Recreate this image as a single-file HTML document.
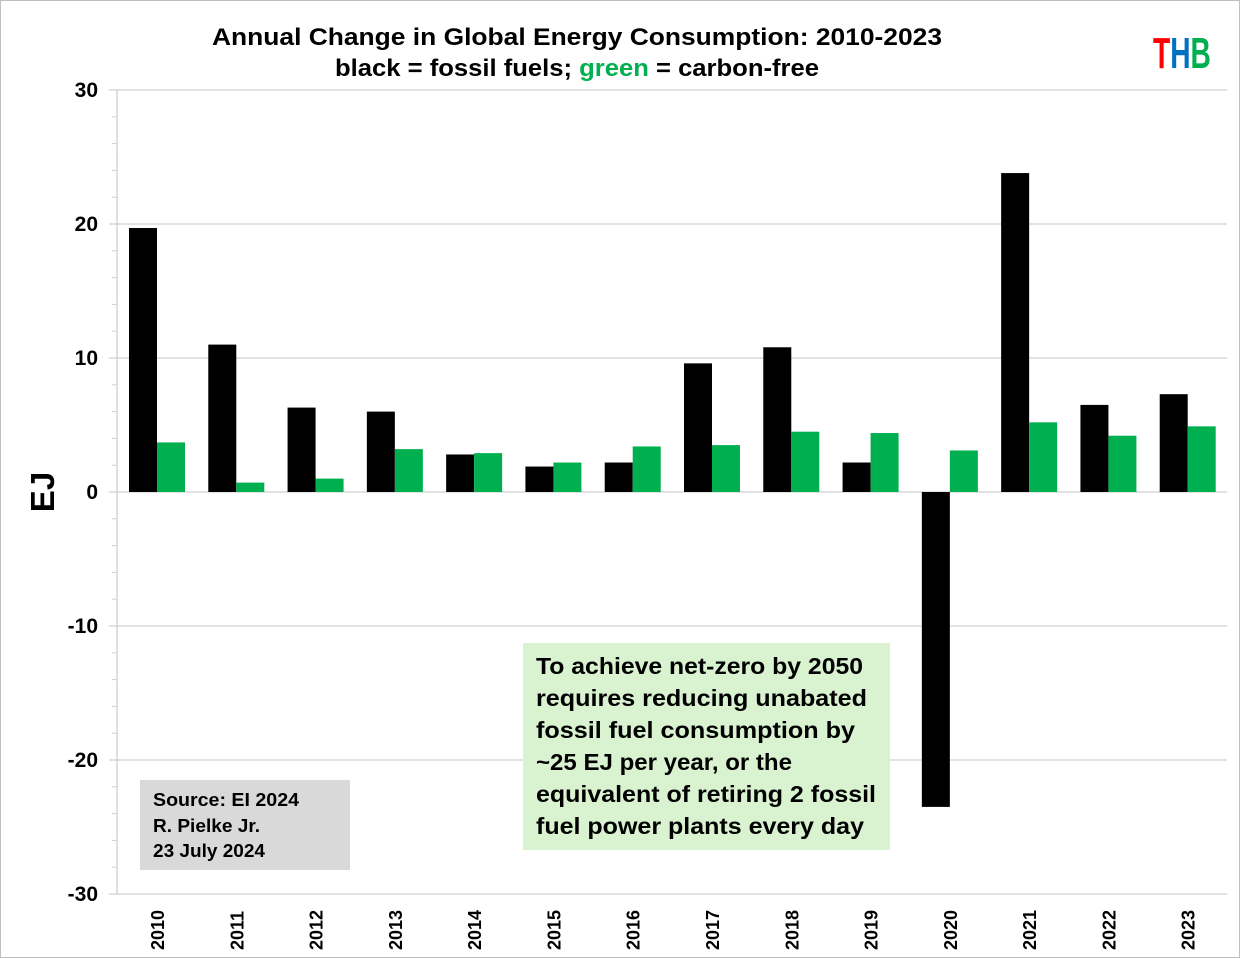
<!DOCTYPE html>
<html><head><meta charset="utf-8"><style>
html,body{margin:0;padding:0;background:#fff;}
body{width:1240px;height:958px;position:relative;overflow:hidden;font-family:"Liberation Sans",sans-serif;}
</style></head><body>
<svg id="chart" width="1240" height="958" xmlns="http://www.w3.org/2000/svg" style="position:absolute;left:0;top:0">
<rect x="0.5" y="0.5" width="1239" height="957" fill="#fff" stroke="#bfbfbf"/>
<text x="212" y="45" textLength="730" lengthAdjust="spacingAndGlyphs" font-size="24" font-weight="bold" fill="#000">Annual Change in Global Energy Consumption: 2010-2023</text>
<text x="335" y="76" textLength="484" lengthAdjust="spacingAndGlyphs" font-size="24" font-weight="bold" fill="#000">black = fossil fuels; <tspan fill="#00b050">green</tspan> = carbon-free</text>
<text transform="translate(1153,68) scale(0.64,1)" font-size="44" font-weight="bold"><tspan fill="#ff0000">T</tspan><tspan fill="#0070c0">H</tspan><tspan fill="#00b050">B</tspan></text>
<text transform="translate(54,492) rotate(-90)" text-anchor="middle" font-size="33" font-weight="bold">EJ</text>
<g id="grid"></g><g id="bars"></g><g id="labels"></g>
<rect x="140" y="780" width="210" height="90" fill="#d9d9d9"/>
<text font-size="18.5" font-weight="bold"><tspan x="153" y="806" textLength="146" lengthAdjust="spacingAndGlyphs">Source: EI 2024</tspan><tspan x="153" y="832" textLength="107" lengthAdjust="spacingAndGlyphs">R. Pielke Jr.</tspan><tspan x="153" y="857" textLength="112" lengthAdjust="spacingAndGlyphs">23 July 2024</tspan></text>
<rect x="523" y="643" width="367" height="207" fill="#d9f2d0"/>
<text font-size="23" font-weight="bold"><tspan x="536" y="674" textLength="327" lengthAdjust="spacingAndGlyphs">To achieve net-zero by 2050</tspan><tspan x="536" y="706" textLength="331" lengthAdjust="spacingAndGlyphs">requires reducing unabated</tspan><tspan x="536" y="738" textLength="319" lengthAdjust="spacingAndGlyphs">fossil fuel consumption by</tspan><tspan x="536" y="770" textLength="256" lengthAdjust="spacingAndGlyphs">~25 EJ per year, or the</tspan><tspan x="536" y="802" textLength="340" lengthAdjust="spacingAndGlyphs">equivalent of retiring 2 fossil</tspan><tspan x="536" y="834" textLength="328" lengthAdjust="spacingAndGlyphs">fuel power plants every day</tspan></text>
</svg>
<script>
const years=["2010","2011","2012","2013","2014","2015","2016","2017","2018","2019","2020","2021","2022","2023"];
const fossil=[19.7,11.0,6.3,6.0,2.8,1.9,2.2,9.6,10.8,2.2,-23.5,23.8,6.5,7.3];
const carbonFree=[3.7,0.7,1.0,3.2,2.9,2.2,3.4,3.5,4.5,4.4,3.1,5.2,4.2,4.9];
const yTicks=[30,20,10,0,-10,-20,-30];
const NS="http://www.w3.org/2000/svg";
const x0=117,x1=1227,yTop=90,yBot=894,yMax=30,yMin=-30;
const y=v=>yTop+(yMax-v)/(yMax-yMin)*(yBot-yTop);
const band=(x1-x0)/years.length;
const xc=i=>x0+band*i;
function mk(tag,attrs,parent){const e=document.createElementNS(NS,tag);for(const k in attrs)e.setAttribute(k,attrs[k]);document.getElementById(parent).appendChild(e);return e;}
yTicks.forEach(t=>{
  const g=mk('line',{x1:x0-8,x2:x1,y1:y(t),y2:y(t),stroke:'#d0d0d0','stroke-width':1.3},'grid');
  
  
  const l=mk('text',{x:98,y:y(t)+7,'text-anchor':'end','font-size':21,'font-weight':'bold'},'labels');
  l.textContent=t;
  
  
});
for(let v=yMin;v<yMax;v+=2){if(v%10===0)continue;
  const m=mk('line',{x1:x0-5,x2:x0,y1:y(v),y2:y(v),stroke:'#d0d0d0'},'grid');
  
  }
const ax=mk('line',{x1:x0,x2:x0,y1:yTop,y2:yBot,stroke:'#d0d0d0','stroke-width':1.3},'grid');


const bw=28;
years.forEach((yr,i)=>{
  const bx=xc(i)+12;
  const b=mk('rect',{x:bx,y:Math.min(y(0),y(fossil[i])),width:bw,height:Math.abs(y(fossil[i])-y(0)),fill:'#000'},'bars');
  
  
  const g=mk('rect',{x:bx+bw,y:Math.min(y(0),y(carbonFree[i])),width:bw,height:Math.abs(y(carbonFree[i])-y(0)),fill:'#00b050'},'bars');
  
  
  const t=mk('text',{transform:`translate(${bx+bw+7},950) rotate(-90)`,'font-size':18,'font-weight':'bold'},'labels');
  t.textContent=yr;
  
  
});
</script>
</body></html>
